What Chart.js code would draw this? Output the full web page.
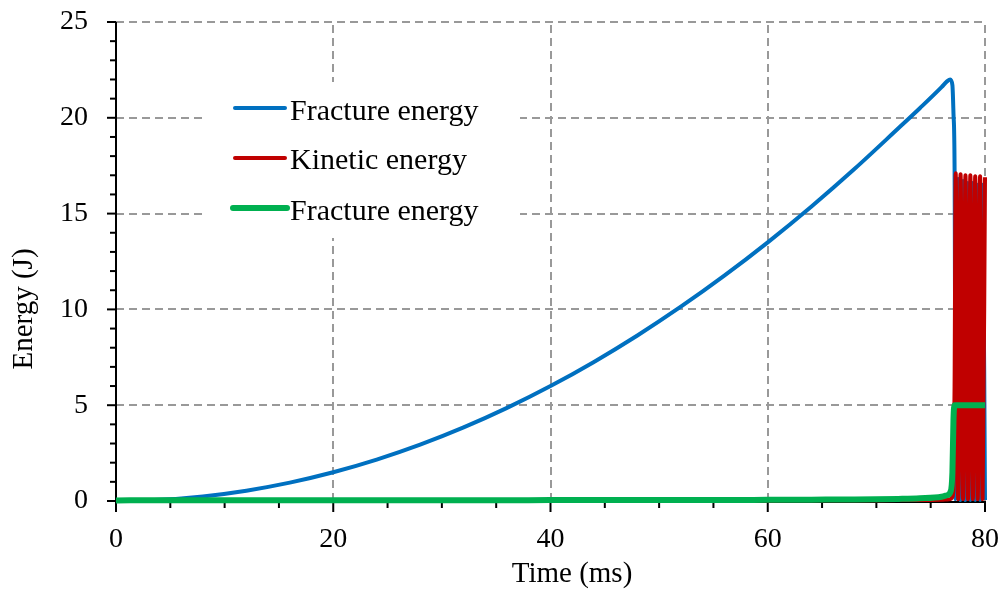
<!DOCTYPE html>
<html>
<head>
<meta charset="utf-8">
<script src="https://cdn.jsdelivr.net/npm/chart.js@4/dist/chart.umd.min.js"></script>
<style>
  html, body { margin: 0; padding: 0; background: #ffffff; }
  #c { display: block; }
</style>
</head>
<body>
<canvas id="c" width="1005" height="590"></canvas>
<script>
// ---- data ----
const time = [0, 4, 8, 12, 16, 20, 24, 28, 32, 36, 40, 44, 48, 52, 56, 60, 64, 68, 72,
  74, 76, 76.5, 76.8, 77.0, 77.1, 77.2,
  77.3, 77.53, 77.75, 77.98, 78.2, 78.43, 78.65, 78.88, 79.1, 79.33, 79.55, 79.78, 80.0];

const fractureEnergy = [0, 0.06, 0.24, 0.54, 0.96, 1.5, 2.16, 2.94, 3.84, 4.86, 6.0, 7.26, 8.64, 10.14, 11.76, 13.5, 15.36, 17.34, 19.44,
  20.5, 21.6, 21.9, 22.0, 21.7, 20.2, 17.3,
  0.1, 16.8, 0.05, 16.7, 0.05, 16.6, 0.05, 16.6, 0.05, 16.5, 0.05, 16.5, 0.05];

const kineticEnergy = [0, 0.02, 0.03, 0.02, 0.03, 0.02, 0.03, 0.02, 0.03, 0.02, 0.03, 0.03, 0.02, 0.03, 0.03, 0.03, 0.04, 0.04, 0.05,
  0.05, 0.06, 0.08, 0.1, 0.2, 0.6, 6.0,
  17.1, 0.1, 17.05, 0.1, 17.0, 0.1, 17.0, 0.1, 16.95, 0.1, 16.95, 0.1, 16.9];

const fractureEnergy2 = [0.03, 0.04, 0.04, 0.04, 0.04, 0.04, 0.04, 0.04, 0.04, 0.04, 0.05, 0.05, 0.05, 0.05, 0.05, 0.06, 0.07, 0.08, 0.11,
  0.14, 0.22, 0.3, 0.45, 1.5, 4.3, 5.0,
  5.0, 5.0, 5.0, 5.0, 5.0, 5.0, 5.0, 5.0, 5.0, 5.0, 5.0, 5.0, 5.0];

const seriesNames = ['Fracture energy', 'Kinetic energy', 'Fracture energy'];
const seriesColors = ['#0070C0', '#C00000', '#00B050'];

const xMajorTicks = [0, 20, 40, 60, 80];
const xMinorTicks = [5, 10, 15, 25, 30, 35, 45, 50, 55, 65, 70, 75];
const yMajorTicks = [0, 5, 10, 15, 20, 25];
const yMinorTicks = [1, 2, 3, 4, 6, 7, 8, 9, 11, 12, 13, 14, 16, 17, 18, 19, 21, 22, 23, 24];

const xTitle = 'Time (ms)';
const yTitle = 'Energy (J)';

const FONT = '"Liberation Serif", "Times New Roman", serif';

function pts(ys) { return time.map((t, i) => ({ x: t, y: ys[i] })); }

const framePlugin = {
  id: 'frame',
  beforeDatasetsDraw(chart) {
    const ctx = chart.ctx;
    const xs = chart.scales.x, ys = chart.scales.y;
    const a = chart.chartArea;
    ctx.save();
    // dashed grid
    ctx.strokeStyle = '#999999';
    ctx.lineWidth = 2;
    ctx.setLineDash([8, 5]);
    xMajorTicks.forEach(v => {
      if (v === xs.min) return;
      const px = Math.round(xs.getPixelForValue(v));
      ctx.beginPath(); ctx.moveTo(px, a.bottom); ctx.lineTo(px, a.top); ctx.stroke();
    });
    yMajorTicks.forEach(v => {
      if (v === ys.min) return;
      const py = Math.round(ys.getPixelForValue(v));
      ctx.beginPath(); ctx.moveTo(a.left, py); ctx.lineTo(a.right, py); ctx.stroke();
    });
    ctx.setLineDash([]);
    // legend background box
    ctx.fillStyle = '#ffffff';
    ctx.fillRect(203, 82, 317, 156);
    // axes
    ctx.strokeStyle = '#000';
    ctx.lineWidth = 2;
    ctx.beginPath();
    ctx.moveTo(a.left, a.top); ctx.lineTo(a.left, a.bottom + 1); ctx.lineTo(a.right + 1, a.bottom + 1);
    ctx.stroke();
    // ticks
    ctx.lineWidth = 2;
    yMajorTicks.forEach(v => {
      const py = ys.getPixelForValue(v);
      ctx.beginPath(); ctx.moveTo(a.left - 9, py); ctx.lineTo(a.left, py); ctx.stroke();
    });
    yMinorTicks.forEach(v => {
      const py = ys.getPixelForValue(v);
      ctx.beginPath(); ctx.moveTo(a.left - 6, py); ctx.lineTo(a.left, py); ctx.stroke();
    });
    xMajorTicks.forEach(v => {
      const px = xs.getPixelForValue(v);
      ctx.beginPath(); ctx.moveTo(px, a.bottom); ctx.lineTo(px, a.bottom + 11); ctx.stroke();
    });
    xMinorTicks.forEach(v => {
      const px = xs.getPixelForValue(v);
      ctx.beginPath(); ctx.moveTo(px, a.bottom); ctx.lineTo(px, a.bottom + 7); ctx.stroke();
    });
    ctx.restore();
  },
  afterDraw(chart) {
    const ctx = chart.ctx;
    ctx.save();
    // legend
    const rowsY = [108, 158, 208];
    const baseY = [120, 169, 220];
    chart.data.datasets.forEach((ds, i) => {
      ctx.strokeStyle = ds.borderColor;
      ctx.lineWidth = i === 2 ? 6 : 4;
      ctx.lineCap = 'round';
      ctx.beginPath();
      ctx.moveTo(i === 2 ? 233 : 235, rowsY[i]);
      ctx.lineTo(i === 2 ? 287 : 285, rowsY[i]);
      ctx.stroke();
      ctx.fillStyle = '#000';
      ctx.font = '30px ' + FONT;
      ctx.textAlign = 'left';
      ctx.textBaseline = 'alphabetic';
      ctx.fillText(ds.label, 290, baseY[i]);
    });
    // axis titles
    ctx.fillStyle = '#000';
    ctx.font = '29px ' + FONT;
    ctx.textAlign = 'center';
    ctx.textBaseline = 'alphabetic';
    ctx.fillText(xTitle, 572, 582);
    ctx.translate(32, 309);
    ctx.rotate(-Math.PI / 2);
    ctx.fillText(yTitle, 0, 0);
    ctx.restore();
  }
};

function zeroPad(s) { s.paddingTop = 0; s.paddingBottom = 0; s.paddingLeft = 0; s.paddingRight = 0; }

new Chart(document.getElementById('c'), {
  type: 'line',
  data: {
    datasets: [
      { label: seriesNames[0], data: pts(fractureEnergy), borderColor: seriesColors[0], borderWidth: 4, order: 3 },
      { label: seriesNames[1], data: pts(kineticEnergy), borderColor: seriesColors[1], borderWidth: 4, order: 2 },
      { label: seriesNames[2], data: pts(fractureEnergy2), borderColor: seriesColors[2], borderWidth: 6, order: 1 }
    ]
  },
  options: {
    responsive: false,
    devicePixelRatio: 1,
    animation: false,
    elements: {
      point: { radius: 0, hoverRadius: 0 },
      line: { tension: 0, cubicInterpolationMode: 'monotone', fill: false, borderJoinStyle: 'round' }
    },
    datasets: { line: { clip: false } },
    layout: { padding: { left: 0, top: 22, right: 20, bottom: 0 } },
    plugins: { legend: { display: false }, tooltip: { enabled: false }, title: { display: false } },
    scales: {
      x: {
        type: 'linear', min: 0, max: 80,
        afterFit: s => { s.height = 89; zeroPad(s); },
        afterBuildTicks: s => { s.ticks = xMajorTicks.map(v => ({ value: v })); },
        ticks: { font: { family: FONT, size: 28 }, color: '#000', padding: 14, maxRotation: 0 },
        grid: { display: false }, border: { display: false }
      },
      y: {
        min: 0, max: 25,
        afterFit: s => { s.width = 116; zeroPad(s); },
        afterBuildTicks: s => { s.ticks = yMajorTicks.map(v => ({ value: v })); },
        ticks: { font: { family: FONT, size: 28 }, color: '#000', padding: 20 },
        grid: { display: false }, border: { display: false }
      }
    }
  },
  plugins: [framePlugin]
});
</script>
</body>
</html>
